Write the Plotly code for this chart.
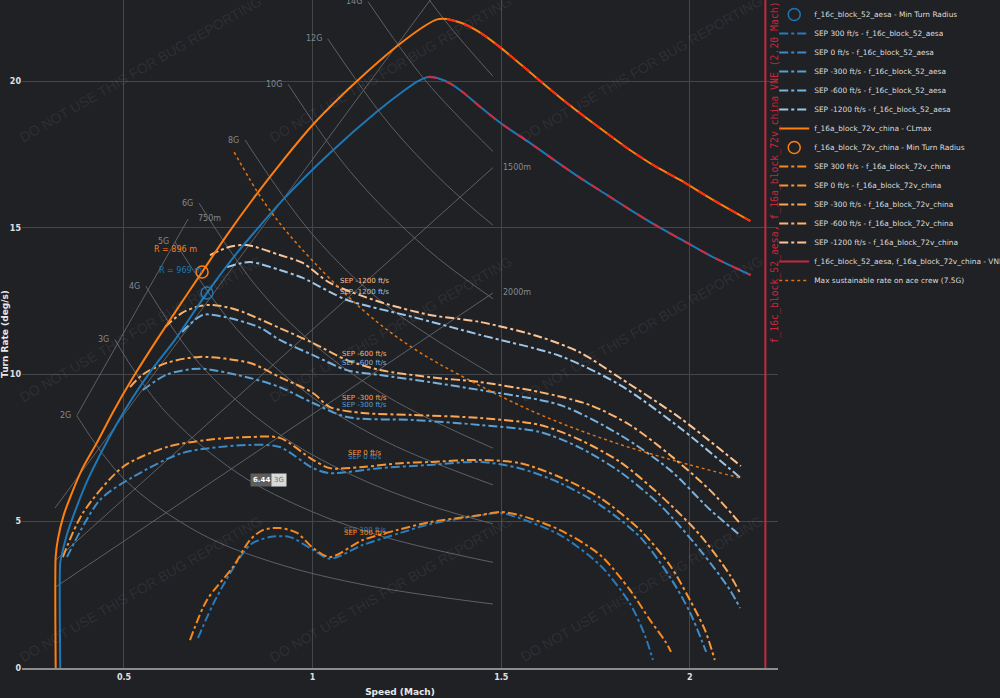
import plotly.graph_objects as go

# ---------------- data ----------------
blue_clmax_mach = [0.331, 0.331, 0.336, 0.35, 0.375, 0.40, 0.44, 0.48, 0.525, 0.57, 0.635, 0.72, 0.80, 0.921,
                   1.046, 1.17, 1.24, 1.277, 1.306, 1.33, 1.37, 1.40, 1.444, 1.50, 1.576, 1.65, 1.709, 1.78, 1.841,
                   1.91, 1.974, 2.061, 2.161]
blue_clmax_rate = [0, 3.58, 3.9, 4.6, 5.5, 6.3, 7.35, 8.3, 9.25, 10.1, 11.18, 12.78, 14.15, 15.95,
                   17.55, 18.95, 19.65, 19.98, 20.14, 20.1, 19.88, 19.6, 19.12, 18.55, 17.89, 17.22, 16.7, 16.12, 15.62,
                   15.08, 14.62, 14.0, 13.39]
orange_clmax_mach = [0.319, 0.319, 0.325, 0.34, 0.36, 0.39, 0.428, 0.47, 0.525, 0.587, 0.65, 0.707, 0.77, 0.842,
                     0.92, 1.0, 1.07, 1.133, 1.23, 1.30, 1.33, 1.356, 1.40, 1.45, 1.50, 1.576, 1.65, 1.709, 1.78,
                     1.841, 1.91, 1.974, 2.061, 2.16]
orange_clmax_rate = [0, 3.79, 4.4, 5.2, 5.9, 6.8, 7.67, 8.7, 9.92, 11.18, 12.4, 13.49, 14.7, 15.98,
                     17.27, 18.5, 19.42, 20.18, 21.25, 21.9, 22.1, 22.11, 21.95, 21.6, 21.12, 20.3, 19.5, 18.9, 18.22,
                     17.65, 17.08, 16.63, 15.95, 15.23]
blue_peak_mach = 1.306
orange_peak_mach = 1.356

blue_mtr_mach, blue_mtr_rate, blue_mtr_label = [0.72], [12.78], "R = 969 m"
orange_mtr_mach, orange_mtr_rate, orange_mtr_label = [0.707], [13.49], "R = 896 m"

# SEP curves, f_16c_block_52_aesa (blue)
b_sep300_mach = [0.696, 0.746, 0.834, 0.887, 0.940, 1.001, 1.046, 1.133, 1.232, 1.311, 1.444, 1.497, 1.550,
                 1.656, 1.762, 1.841, 1.881, 1.902]
b_sep300_rate = [1.02, 2.42, 4.19, 4.46, 4.46, 4.02, 3.72, 4.19, 4.6, 4.9, 5.2, 5.28, 5.1, 4.53, 3.5, 2.2, 1.1, 0.27]
b_sep0_mach = [0.349, 0.436, 0.524, 0.656, 0.834, 0.913, 1.001, 1.046, 1.179, 1.311, 1.444, 1.550, 1.656,
               1.762, 1.868, 1.947, 2.000, 2.043]
b_sep0_rate = [3.78, 5.72, 6.51, 7.33, 7.60, 7.53, 6.81, 6.64, 6.81, 6.92, 7.02, 6.8, 6.3, 5.55, 4.46, 3.1, 1.9, 0.55]
b_sepm300_mach = [0.55, 0.614, 0.701, 0.834, 0.913, 1.001, 1.091, 1.266, 1.444, 1.603, 1.709, 1.815, 1.921,
                  2.027, 2.106, 2.133]
b_sepm300_rate = [9.47, 10.0, 10.2, 9.88, 9.57, 9.03, 8.55, 8.45, 8.28, 8.04, 7.5, 6.68, 5.55, 4.02, 2.66, 2.04]
b_sepm600_mach = [0.654, 0.709, 0.77, 0.86, 0.913, 1.001, 1.091, 1.179, 1.311, 1.444, 1.656, 1.815, 1.947,
                  2.053, 2.135]
b_sepm600_rate = [11.45, 12.03, 11.95, 11.6, 11.18, 10.66, 10.15, 9.98, 9.74, 9.47, 8.96, 7.94, 6.75, 5.4, 4.5]
b_sepm1200_mach = [0.773, 0.834, 0.913, 0.974, 1.091, 1.266, 1.444, 1.656, 1.815, 1.974, 2.135]
b_sepm1200_rate = [13.66, 13.83, 13.56, 13.29, 12.54, 11.96, 11.35, 10.63, 9.64, 8.18, 6.47]

# SEP curves, f_16a_block_72v_china (orange)
o_sep300_mach = [0.675, 0.720, 0.789, 0.834, 0.868, 0.913, 0.959, 1.001, 1.046, 1.133, 1.224, 1.311, 1.444,
                 1.497, 1.550, 1.656, 1.762, 1.841, 1.894, 1.935, 1.950]
o_sep300_rate = [0.95, 2.32, 3.44, 4.36, 4.70, 4.77, 4.60, 4.09, 3.78, 4.36, 4.70, 4.97, 5.21,
                 5.32, 5.2, 4.70, 3.85, 2.66, 1.64, 0.9, 0.55]
o_sep0_mach = [0.338, 0.391, 0.497, 0.614, 0.720, 0.834, 0.913, 1.001, 1.046, 1.133, 1.232, 1.311, 1.444,
               1.550, 1.656, 1.762, 1.868, 1.947, 2.000, 2.040, 2.066]
o_sep0_rate = [3.78, 5.28, 6.85, 7.53, 7.77, 7.87, 7.84, 7.09, 6.81, 6.85, 6.98, 7.02, 7.09,
               6.98, 6.5, 5.8, 4.7, 3.5, 2.32, 1.29, 0.27]
o_sepm300_mach = [0.516, 0.55, 0.614, 0.701, 0.834, 0.913, 1.001, 1.046, 1.133, 1.266, 1.444, 1.603, 1.709,
                  1.815, 1.921, 2.027, 2.106, 2.135]
o_sepm300_rate = [9.57, 10.0, 10.4, 10.6, 10.39, 9.91, 9.37, 8.89, 8.69, 8.62, 8.52, 8.28, 7.77,
                  7.02, 5.89, 4.53, 3.17, 2.5]
o_sepm600_mach = [0.609, 0.654, 0.70, 0.736, 0.80, 0.913, 1.001, 1.091, 1.179, 1.311, 1.444, 1.603, 1.735,
                  1.841, 1.947, 2.053, 2.135]
o_sepm600_rate = [11.62, 12.1, 12.33, 12.37, 12.2, 11.58, 11.07, 10.49, 10.15, 9.91, 9.74, 9.40, 8.96,
                  8.28, 7.26, 6.06, 4.9]
o_sepm1200_mach = [0.728, 0.78, 0.826, 0.913, 0.974, 1.046, 1.179, 1.311, 1.444, 1.603, 1.709, 1.815, 1.974, 2.135]
o_sepm1200_rate = [14.07, 14.35, 14.41, 14.07, 13.80, 13.12, 12.47, 12.03, 11.79, 11.28, 10.75, 9.88, 8.52, 6.88]

sep_levels = ["300", "0", "-300", "-600", "-1200"]
sep_label_rate_orange = [4.60, 7.33, 9.20, 10.70, 13.19]
sep_label_rate_blue = [4.70, 7.19, 8.96, 10.39, 12.81]
sep_label_mach = 1.138

max_sus_mach = [0.792, 0.87, 0.959, 1.133, 1.266, 1.409, 1.60, 1.80, 2.0, 2.135]
max_sus_rate = [17.58, 15.9, 14.45, 12.2, 10.9, 9.85, 8.65, 7.68, 6.92, 6.47]

vne_mach = 2.20
vne_rate = [0, 22.76]

# constant-G reference lines
g_labels = ["2G", "3G", "4G", "5G", "6G", "8G", "10G", "12G", "14G", "16G"]
g_mach = [[0.375, 0.5, 0.7, 0.9, 1.15, 1.478],
          [0.476, 0.6, 0.8, 1.0, 1.2, 1.478],
          [0.558, 0.7, 0.9, 1.1, 1.3, 1.478],
          [0.635, 0.8, 1.0, 1.2, 1.478],
          [0.699, 0.85, 1.0, 1.2, 1.478],
          [0.821, 1.0, 1.2, 1.478],
          [0.935, 1.1, 1.3, 1.478],
          [1.04, 1.2, 1.35, 1.478],
          [1.147, 1.3, 1.478],
          [1.25, 1.35, 1.478]]
g_rate = [[8.59, 6.44, 4.60, 3.58, 2.80, 2.18],
          [11.18, 8.87, 6.65, 5.32, 4.43, 3.60],
          [13.01, 10.37, 8.07, 6.60, 5.58, 4.91],
          [14.52, 11.53, 9.22, 7.68, 6.24],
          [15.84, 13.02, 11.07, 9.23, 7.49],
          [17.99, 14.77, 12.31, 9.99],
          [19.89, 16.91, 14.31, 12.58],
          [21.44, 18.58, 16.52, 15.09],
          [22.7, 20.0, 17.6],
          [23.84, 22.07, 20.16]]

# constant-radius reference lines
r_labels = ["750m", "1000m", "1500m", "2000m"]
r_mach = [[0.375, 0.67], [0.317, 1.36], [0.32, 1.478], [0.32, 1.478]]
r_rate = [[8.6, 15.3], [5.45, 23.6], [3.69, 17.05], [2.77, 12.78]]
r_label_shown = [True, False, True, True]

hover_mach, hover_rate, hover_value, hover_name = 0.829, 6.42, "6.44", "3G"

x_ticks = [0.5, 1, 1.5, 2]
y_ticks = [0, 5, 10, 15, 20]
x_range = [0.2297, 2.2335]
y_range = [0, 22.76]

watermark_text = "DO NOT USE THIS FOR BUG REPORTING"
watermark_cols = [0.157, 0.488, 0.819]
watermark_rows = [0.897, 0.508, 0.119]

# ---------------- styling ----------------
BG = "#1f2125"
GRID = "#43464b"
REFLINE = "#5d6065"
REFTEXT = "#85888c"
BLUE = "#1f77b4"
ORANGE = "#ff7f0e"
RED = "#c8283c"
FONT = "DejaVu Sans"
blue_sep_colors = ["#2a7bba", "#3d8bc6", "#5a9ed2", "#7ab2dd", "#9fc6e6"]
orange_sep_colors = ["#f5891f", "#f99634", "#fca552", "#fdb46e", "#fcc394"]

fig = go.Figure()

for m, r in zip(g_mach, g_rate):
    fig.add_trace(go.Scatter(x=m, y=r, mode="lines", line=dict(color=REFLINE, width=1, shape="spline"),
                             hoverinfo="skip", showlegend=False))
for m, r in zip(r_mach, r_rate):
    fig.add_trace(go.Scatter(x=m, y=r, mode="lines", line=dict(color=REFLINE, width=1),
                             hoverinfo="skip", showlegend=False))

blue_sep = [(b_sep300_mach, b_sep300_rate), (b_sep0_mach, b_sep0_rate), (b_sepm300_mach, b_sepm300_rate),
            (b_sepm600_mach, b_sepm600_rate), (b_sepm1200_mach, b_sepm1200_rate)]
orange_sep = [(o_sep300_mach, o_sep300_rate), (o_sep0_mach, o_sep0_rate), (o_sepm300_mach, o_sepm300_rate),
              (o_sepm600_mach, o_sepm600_rate), (o_sepm1200_mach, o_sepm1200_rate)]

for i, (lvl, (m, r)) in enumerate(zip(sep_levels, blue_sep)):
    fig.add_trace(go.Scatter(x=m, y=r, mode="lines", name=f"SEP {lvl} ft/s - f_16c_block_52_aesa",
                             line=dict(color=blue_sep_colors[i], width=2, dash="dashdot", shape="spline",
                                       smoothing=0.8),
                             legendrank=2 + i))
for i, (lvl, (m, r)) in enumerate(zip(sep_levels, orange_sep)):
    fig.add_trace(go.Scatter(x=m, y=r, mode="lines", name=f"SEP {lvl} ft/s - f_16a_block_72v_china",
                             line=dict(color=orange_sep_colors[i], width=2, dash="dashdot", shape="spline",
                                       smoothing=0.8),
                             legendrank=9 + i))

fig.add_trace(go.Scatter(x=blue_clmax_mach, y=blue_clmax_rate, mode="lines",
                         name="f_16c_block_52_aesa - CLmax",
                         line=dict(color=BLUE, width=2, shape="spline", smoothing=0.6), showlegend=False))
fig.add_trace(go.Scatter(x=orange_clmax_mach, y=orange_clmax_rate, mode="lines",
                         name="f_16a_block_72v_china - CLmax",
                         line=dict(color=ORANGE, width=2, shape="spline", smoothing=0.6), legendrank=7))

bi = blue_clmax_mach.index(blue_peak_mach)
oi = orange_clmax_mach.index(orange_peak_mach)
fig.add_trace(go.Scatter(x=blue_clmax_mach[bi:], y=blue_clmax_rate[bi:], mode="lines",
                         line=dict(color="#d8283a", width=2, dash="dash", shape="spline", smoothing=0.6),
                         hoverinfo="skip", showlegend=False))
fig.add_trace(go.Scatter(x=orange_clmax_mach[oi:], y=orange_clmax_rate[oi:], mode="lines",
                         line=dict(color="#ff2a10", width=2, dash="dash", shape="spline", smoothing=0.6),
                         hoverinfo="skip", showlegend=False))

fig.add_trace(go.Scatter(x=[vne_mach, vne_mach], y=vne_rate, mode="lines",
                         name="f_16c_block_52_aesa, f_16a_block_72v_china - VNE",
                         line=dict(color=RED, width=2), legendrank=14))
fig.add_trace(go.Scatter(x=max_sus_mach, y=max_sus_rate, mode="lines",
                         name="Max sustainable rate on ace crew (7.5G)",
                         line=dict(color="#e5720e", width=1.5, dash="dot", shape="spline"), legendrank=15))

fig.add_trace(go.Scatter(x=blue_mtr_mach, y=blue_mtr_rate, mode="markers",
                         name="f_16c_block_52_aesa - Min Turn Radius",
                         marker=dict(symbol="circle-open", size=12, color=BLUE, line=dict(width=1.5)),
                         legendrank=1))
fig.add_trace(go.Scatter(x=orange_mtr_mach, y=orange_mtr_rate, mode="markers",
                         name="f_16a_block_72v_china - Min Turn Radius",
                         marker=dict(symbol="circle-open", size=12, color=ORANGE, line=dict(width=1.5)),
                         legendrank=8))

ann = []
# watermarks
for row_y in watermark_rows:
    for col_x in watermark_cols:
        ann.append(dict(xref="paper", yref="paper", x=col_x, y=row_y, text=watermark_text,
                        xanchor="center", yanchor="middle",
                        showarrow=False, textangle=-30, font=dict(family="Liberation Sans", size=14,
                                                                  color="rgba(255,255,255,0.08)")))
# G labels
for lab, m, r in zip(g_labels, g_mach, g_rate):
    if lab == "16G":
        continue
    ann.append(dict(x=m[0], y=r[0], text=lab, showarrow=False, xanchor="right", xshift=-4,
                    font=dict(family=FONT, size=8, color=REFTEXT)))
for lab, m, r, show in zip(r_labels, r_mach, r_rate, r_label_shown):
    if show:
        ann.append(dict(x=m[-1], y=r[-1], text=lab, showarrow=False, xanchor="left", xshift=8,
                        font=dict(family=FONT, size=8, color=REFTEXT)))
# SEP labels
for i, lvl in enumerate(sep_levels):
    ann.append(dict(x=sep_label_mach, y=sep_label_rate_blue[i], text=f"SEP {lvl} ft/s", showarrow=False,
                    font=dict(family=FONT, size=7, color=blue_sep_colors[i])))
for i, lvl in enumerate(sep_levels):
    ann.append(dict(x=sep_label_mach, y=sep_label_rate_orange[i], text=f"SEP {lvl} ft/s", showarrow=False,
                    font=dict(family=FONT, size=7, color=orange_sep_colors[i])))
# min turn radius labels
ann.append(dict(x=orange_mtr_mach[0], y=orange_mtr_rate[0], text=orange_mtr_label, showarrow=False,
                xanchor="right", xshift=-3, yshift=23, font=dict(family=FONT, size=8, color=ORANGE)))
ann.append(dict(x=blue_mtr_mach[0], y=blue_mtr_rate[0], text=blue_mtr_label, showarrow=False,
                xanchor="right", xshift=-3, yshift=22, font=dict(family=FONT, size=8, color=BLUE)))
# VNE text
ann.append(dict(x=vne_mach, y=11.0, text="f_16c_block_52_aesa, f_16a_block_72v_china VNE (2.20 Mach)",
                showarrow=False, textangle=-90, xanchor="left", yanchor="bottom", xshift=2,
                font=dict(family="DejaVu Sans Mono", size=9.8, color=RED)))
# hover label
ann.append(dict(x=hover_mach, y=hover_rate, text=hover_value, showarrow=False, xanchor="left", xshift=2,
                bgcolor="#5e5e5e", borderpad=2, font=dict(family=FONT, size=7, color="white", weight="bold")))
ann.append(dict(x=hover_mach, y=hover_rate, text=hover_name, showarrow=False, xanchor="left", xshift=23,
                bgcolor="#d9d9d9", borderpad=2, font=dict(family=FONT, size=7, color="#707070")))

fig.update_layout(
    width=1000, height=698,
    margin=dict(l=22, r=222, t=0, b=30, autoexpand=False),
    paper_bgcolor=BG, plot_bgcolor=BG,
    font=dict(family=FONT, color="#dddddd"),
    annotations=ann,
    legend=dict(x=0.995, y=1, xanchor="left", yanchor="top", bgcolor="rgba(0,0,0,0)",
                font=dict(family=FONT, size=7.4, color="#dddddd")),
    xaxis=dict(range=x_range, tickvals=x_ticks, ticktext=[str(v) for v in x_ticks], showgrid=True,
               gridcolor=GRID, gridwidth=1, zeroline=False, showline=True, linecolor="#8c8c8c", linewidth=2,
               tickfont=dict(size=8, color="#e0e0e0", weight="bold"), automargin=False,
               title=dict(text="Speed (Mach)", font=dict(size=9, color="#e8e8e8", weight="bold"), standoff=8)),
    yaxis=dict(range=y_range, tickvals=y_ticks, showgrid=True, gridcolor=GRID, gridwidth=1, zeroline=False,
               showline=False, tickfont=dict(size=8, color="#e0e0e0", weight="bold"), automargin=False,
               title=dict(text="Turn Rate (deg/s)", font=dict(size=9, color="#e8e8e8", weight="bold"),
                          standoff=7)),
    showlegend=True,
)

fig.write_html("out.html")
